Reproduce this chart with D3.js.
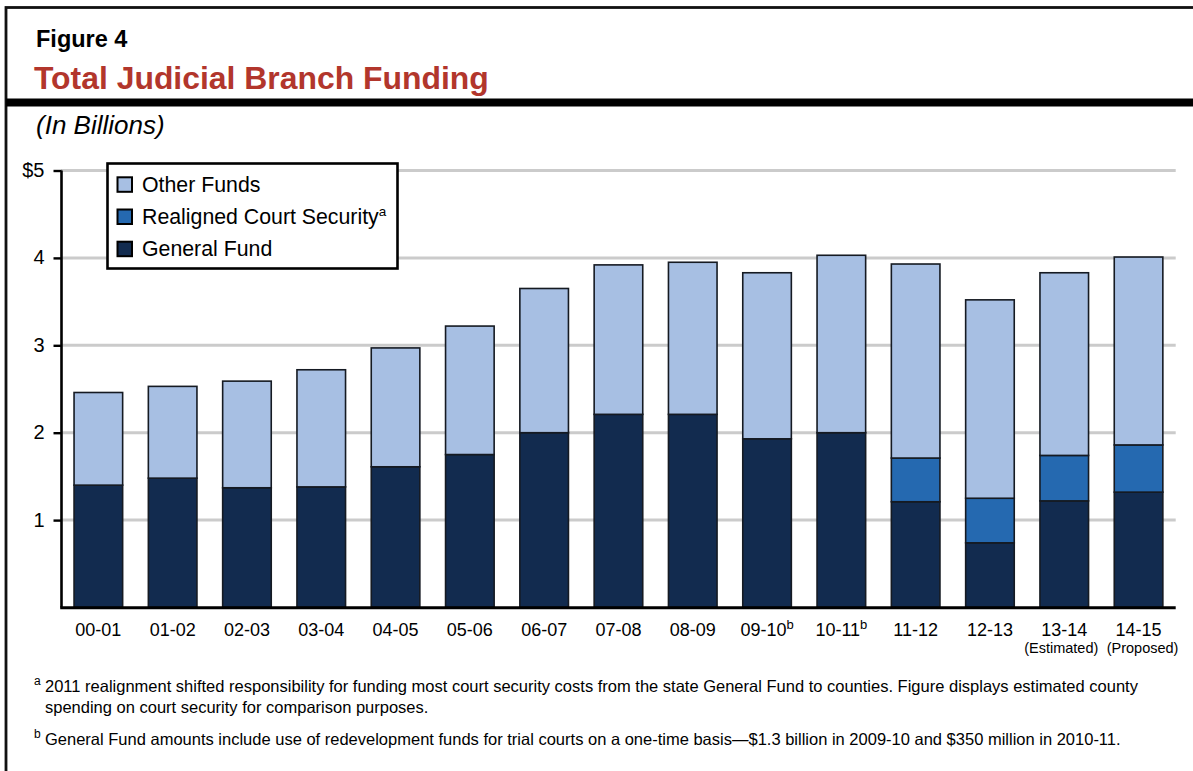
<!DOCTYPE html>
<html>
<head>
<meta charset="utf-8">
<script src="https://cdn.jsdelivr.net/npm/d3@7"></script>
<style>
  html, body { margin: 0; padding: 0; background: #fff; }
  svg { display: block; font-family: "Liberation Sans", Arial, Helvetica, sans-serif; }
</style>
</head>
<body>
<svg id="chart" width="1193" height="771"></svg>
<script>
// Fiscal years shown along the x axis
const categories = ["00-01","01-02","02-03","03-04","04-05","05-06","06-07","07-08","08-09","09-10","10-11","11-12","12-13","13-14","14-15"];
const categoryNotes = ["","","","","","","","","","b","b","","","",""];
const categorySubLabels = ["","","","","","","","","","","","","","(Estimated)","(Proposed)"];

// Funding by source, in billions of dollars
const generalFund   = [1.40,1.48,1.37,1.38,1.61,1.75,2.00,2.21,2.21,1.93,2.00,1.21,0.74,1.22,1.32];
const courtSecurity = [0,0,0,0,0,0,0,0,0,0,0,0.50,0.51,0.52,0.54];
const otherFunds    = [1.06,1.05,1.22,1.34,1.36,1.47,1.65,1.71,1.74,1.90,2.03,2.22,2.27,2.09,2.15];

const seriesNames = ["General Fund","Realigned Court Security","Other Funds"];
const seriesColors = ["#122b4f","#2569b0","#a7bfe3"];

const yTicks = [1,2,3,4,5];
const yTickLabels = ["1","2","3","4","$5"];

const svg = d3.select("#chart");

// ---- frame and header ----
svg.append("rect").attr("x", 6).attr("y", 7.5).attr("width", 1300).attr("height", 900)
  .attr("fill", "none").attr("stroke", "#111").attr("stroke-width", 2.8);
svg.append("rect").attr("x", 6).attr("y", 98.5).attr("width", 1200).attr("height", 8)
  .attr("fill", "#000");

svg.append("text").attr("x", 36).attr("y", 47)
  .attr("font-size", 23.5).attr("font-weight", "bold").attr("fill", "#000")
  .text("Figure 4");
svg.append("text").attr("x", 34).attr("y", 89)
  .attr("font-size", 31.9).attr("font-weight", "bold").attr("fill", "#b2362c")
  .text("Total Judicial Branch Funding");
svg.append("text").attr("x", 36).attr("y", 134)
  .attr("font-size", 26).attr("font-style", "italic").attr("fill", "#000")
  .text("(In Billions)");

// ---- scales ----
const x = d3.scaleBand().domain(categories).range([61.2, 1175.7])
  .paddingInner(0.346).paddingOuter(0.173);
const y = d3.scaleLinear().domain([0, 5]).range([607.5, 170.5]);

// gridlines
svg.append("g").selectAll("line").data(yTicks).join("line")
  .attr("x1", 61).attr("x2", 1175.7)
  .attr("y1", d => y(d)).attr("y2", d => y(d))
  .attr("stroke", "#cbcbcb").attr("stroke-width", 3);

// y axis
const yAxis = d3.axisLeft(y).tickValues(yTicks)
  .tickFormat((d, i) => yTickLabels[i]).tickSize(8).tickPadding(8);
const gy = svg.append("g").attr("transform", "translate(61.5,0)").call(yAxis);
gy.select(".domain").attr("d", `M0,${y(5)}V${y(0)}`).attr("stroke", "#000").attr("stroke-width", 2.6);
gy.selectAll(".tick line").attr("stroke", "#000").attr("stroke-width", 2.4);
gy.selectAll(".tick text").attr("font-size", 20).attr("fill", "#000")
  .attr("font-family", "Liberation Sans, Arial, sans-serif").attr("dx", -1).attr("dy", "0.3em");

// ---- stacked bars ----
const rows = categories.map((c, i) => ({
  cat: c,
  "General Fund": generalFund[i],
  "Realigned Court Security": courtSecurity[i],
  "Other Funds": otherFunds[i]
}));
const stacked = d3.stack().keys(seriesNames)(rows);

svg.append("g").selectAll("g").data(stacked).join("g")
  .attr("fill", (d, i) => seriesColors[i])
  .selectAll("rect").data(d => d.filter(p => p[1] - p[0] > 0)).join("rect")
  .attr("x", d => x(d.data.cat))
  .attr("width", x.bandwidth())
  .attr("y", d => y(d[1]))
  .attr("height", d => y(d[0]) - y(d[1]))
  .attr("stroke", "#151a22").attr("stroke-width", 1.6);

// baseline
svg.append("line").attr("x1", 60.2).attr("x2", 1175.7)
  .attr("y1", y(0) + 0.2).attr("y2", y(0) + 0.2)
  .attr("stroke", "#000").attr("stroke-width", 3);

// ---- x labels ----
const xl = svg.append("g").selectAll("g").data(categories).join("g")
  .attr("transform", d => `translate(${x(d) + x.bandwidth() / 2},0)`);
const lbl = xl.append("text").attr("y", 636).attr("text-anchor", "middle")
  .attr("font-size", 18).attr("fill", "#000");
lbl.append("tspan").text(d => d);
lbl.filter((d, i) => categoryNotes[i]).append("tspan")
  .attr("dy", -7).attr("font-size", 13).text((d) => categoryNotes[categories.indexOf(d)]);
xl.filter((d, i) => categorySubLabels[i]).append("text")
  .attr("y", 653).attr("text-anchor", "middle").attr("font-size", 14.5).attr("fill", "#000")
  .attr("dx", d => d === "14-15" ? 4 : -3)
  .text(d => categorySubLabels[categories.indexOf(d)]);

// ---- legend ----
const lg = svg.append("g");
lg.append("rect").attr("x", 107.5).attr("y", 163.5).attr("width", 290).attr("height", 105)
  .attr("fill", "#fff").attr("stroke", "#000").attr("stroke-width", 2.6);
const legendItems = [
  { name: "Other Funds", color: seriesColors[2], sup: "" },
  { name: "Realigned Court Security", color: seriesColors[1], sup: "a" },
  { name: "General Fund", color: seriesColors[0], sup: "" }
];
const li = lg.selectAll("g.item").data(legendItems).join("g")
  .attr("transform", (d, i) => `translate(0,${184.3 + i * 32.2})`);
li.append("rect").attr("x", 117.5).attr("y", -7).attr("width", 14.5).attr("height", 14.5)
  .attr("fill", d => d.color).attr("stroke", "#000").attr("stroke-width", 2);
const lt = li.append("text").attr("x", 142).attr("y", 7.5)
  .attr("font-size", 21.3).attr("fill", "#000");
lt.append("tspan").text(d => d.name);
lt.filter(d => d.sup).append("tspan").attr("dy", -8).attr("font-size", 13.5).text(d => d.sup);

// ---- footnotes ----
const fn = svg.append("g").attr("font-size", 16.5).attr("fill", "#000");
fn.append("text").attr("x", 34).attr("y", 685).attr("font-size", 12).text("a");
fn.append("text").attr("x", 45).attr("y", 692)
  .text("2011 realignment shifted responsibility for funding most court security costs from the state General Fund to counties. Figure displays estimated county");
fn.append("text").attr("x", 45).attr("y", 713)
  .text("spending on court security for comparison purposes.");
fn.append("text").attr("x", 34).attr("y", 738).attr("font-size", 12).text("b");
fn.append("text").attr("x", 45).attr("y", 745)
  .text("General Fund amounts include use of redevelopment funds for trial courts on a one-time basis\u2014$1.3 billion in 2009-10 and $350 million in 2010-11.");
</script>
</body>
</html>
